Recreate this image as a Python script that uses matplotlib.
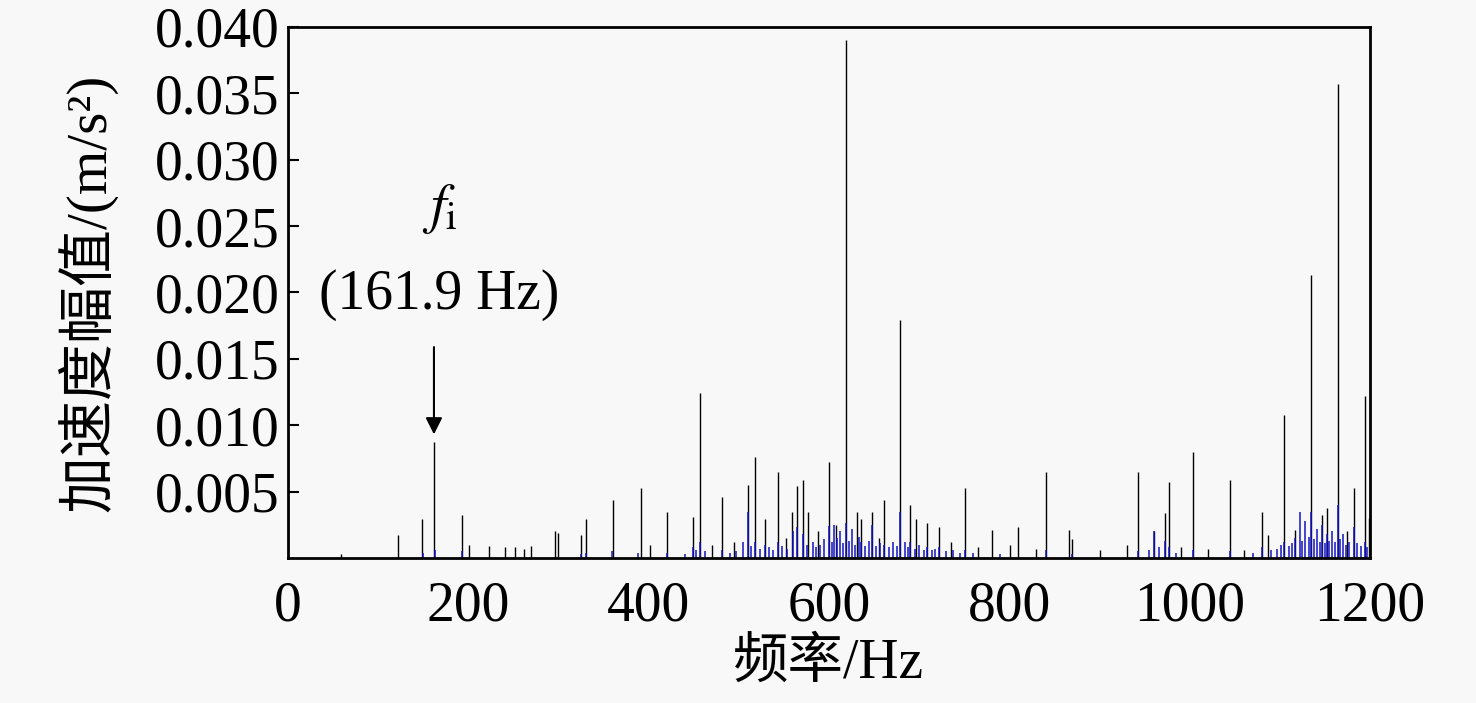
import numpy as np
import matplotlib.pyplot as plt

plt.rcParams['font.family'] = ['Liberation Serif', 'Noto Sans CJK SC']
plt.rcParams['mathtext.fontset'] = 'stix'

# ── DATA: peaks (Hz, m/s^2) ──
black_freq = [
    59, 122, 148.6, 161.9, 193, 201, 223, 241, 252, 262, 270,
    296, 300, 325, 330, 360, 391, 401, 420, 449, 457, 470, 481,
    495, 510, 518, 529, 543, 552, 559, 565, 571, 577, 588, 600,
    608, 619, 631, 636, 648, 655, 661, 679, 690, 697, 709, 722,
    735, 751, 765, 781, 801, 810, 830, 841, 866, 870, 900, 930,
    943, 960, 973, 977, 990, 1004, 1020, 1045, 1060, 1080, 1087,
    1105, 1117, 1135, 1147, 1152, 1164, 1175, 1182, 1194, 1199]
black_amp = [
    0.0003, 0.0017, 0.0029, 0.0087, 0.0032, 0.0010, 0.0009, 0.0008,
    0.0008, 0.0007, 0.0009, 0.0020, 0.0019, 0.0017, 0.0029, 0.0044,
    0.0053, 0.0010, 0.0035, 0.0031, 0.0124, 0.0010, 0.0046, 0.0012,
    0.0055, 0.0076, 0.0029, 0.0065, 0.0015, 0.0035, 0.0054, 0.0059,
    0.0035, 0.0020, 0.0072, 0.0025, 0.0390, 0.0035, 0.0029, 0.0035,
    0.0015, 0.0044, 0.0179, 0.0040, 0.0029, 0.0026, 0.0023, 0.0012,
    0.0053, 0.0008, 0.0021, 0.0010, 0.0023, 0.0007, 0.0065, 0.0021,
    0.0014, 0.0006, 0.0010, 0.0065, 0.0020, 0.0034, 0.0057, 0.0008,
    0.0080, 0.0007, 0.0059, 0.0006, 0.0035, 0.0017, 0.0108, 0.0021,
    0.0213, 0.0032, 0.0038, 0.0357, 0.0020, 0.0053, 0.0122, 0.0030]

blue_freq = [
    150, 163, 193, 325, 330, 359, 388, 420, 440, 449, 453, 457,
    463, 481, 490, 497, 505, 510, 514, 518, 523, 529, 534, 538,
    543, 548, 553, 560, 565, 571, 576, 582, 586, 590, 595, 600,
    603, 606, 609, 612, 616, 619, 622, 625, 629, 633, 636, 640,
    644, 648, 652, 657, 661, 666, 671, 675, 679, 684, 688, 690,
    695, 700, 705, 709, 714, 718, 722, 730, 738, 745, 751, 760,
    790, 841, 870, 943, 955, 960, 966, 973, 977, 985, 1004, 1045,
    1070, 1080, 1090, 1097, 1101, 1105, 1110, 1114, 1117, 1122,
    1125, 1128, 1132, 1135, 1138, 1141, 1144, 1147, 1150, 1152,
    1155, 1158, 1161, 1164, 1167, 1170, 1173, 1177, 1182, 1186,
    1190, 1194, 1197]
blue_amp = [
    0.0004, 0.0006, 0.0005, 0.0003, 0.0004, 0.0005, 0.0004, 0.0004,
    0.0003, 0.0008, 0.0006, 0.0012, 0.0005, 0.0006, 0.0004, 0.0005,
    0.0012, 0.0035, 0.0009, 0.0012, 0.0007, 0.0010, 0.0008, 0.0006,
    0.0012, 0.0009, 0.0007, 0.0020, 0.0023, 0.0018, 0.0010, 0.0012,
    0.0008, 0.0010, 0.0014, 0.0024, 0.0012, 0.0025, 0.0015, 0.0020,
    0.0011, 0.0026, 0.0013, 0.0022, 0.0010, 0.0016, 0.0012, 0.0009,
    0.0013, 0.0025, 0.0009, 0.0011, 0.0010, 0.0008, 0.0012, 0.0009,
    0.0035, 0.0012, 0.0008, 0.0012, 0.0007, 0.0010, 0.0006, 0.0008,
    0.0006, 0.0007, 0.0008, 0.0005, 0.0006, 0.0004, 0.0006, 0.0004,
    0.0003, 0.0006, 0.0003, 0.0005, 0.0006, 0.0020, 0.0008, 0.0013,
    0.0008, 0.0004, 0.0006, 0.0005, 0.0004, 0.0008, 0.0006, 0.0007,
    0.0010, 0.0012, 0.0009, 0.0011, 0.0015, 0.0035, 0.0013, 0.0028,
    0.0016, 0.0035, 0.0014, 0.0022, 0.0012, 0.0025, 0.0011, 0.0018,
    0.0013, 0.0020, 0.0012, 0.0040, 0.0014, 0.0018, 0.0010, 0.0012,
    0.0023, 0.0011, 0.0009, 0.0012, 0.0008]

yticks = [0.005, 0.010, 0.015, 0.020, 0.025, 0.030, 0.035, 0.040]
xticks = [0, 200, 400, 600, 800, 1000, 1200]

# ── PLOT ──
fig = plt.figure(figsize=(14.76, 7.03), dpi=100, facecolor='#f8f8f8')
ax = fig.add_axes([0.1951, 0.2063, 0.7331, 0.7553])
ax.set_facecolor('#f8f8f8')

ax.vlines(black_freq, 0, black_amp, color='black', linewidth=1.0)
ax.vlines(blue_freq, 0, blue_amp, color='#1414c0', linewidth=1.1)

ax.set_xlim(0, 1200)
ax.set_ylim(0, 0.040)
ax.set_xticks(xticks)
ax.set_xticklabels([str(v) for v in xticks])
ax.set_yticks(yticks)
ax.set_yticklabels([f'{v:.3f}' for v in yticks])
ax.tick_params(axis='y', direction='in', length=8, width=1.5,
               labelsize=40, pad=6)
ax.tick_params(axis='x', length=0, labelsize=40, pad=16)
for s in ax.spines.values():
    s.set_linewidth(2)

ax.set_xlabel('频率/Hz', fontsize=40, labelpad=4)
ax.set_ylabel('加速度幅值/(m/s²)', fontsize=41, labelpad=26)

# annotation of the inner-race fault frequency
ax.annotate('', xy=(161.9, 0.0091), xytext=(161.9, 0.0161),
            arrowprops=dict(arrowstyle='-|>', color='black', lw=1.5,
                            mutation_scale=25))
ax.text(168, 0.0263, r'$f_\mathrm{i}$', fontsize=40,
        ha='center', va='center')
ax.text(168, 0.0198, '(161.9 Hz)', fontsize=40,
        ha='center', va='center')

plt.savefig('out.png', dpi=100, facecolor=fig.get_facecolor())
